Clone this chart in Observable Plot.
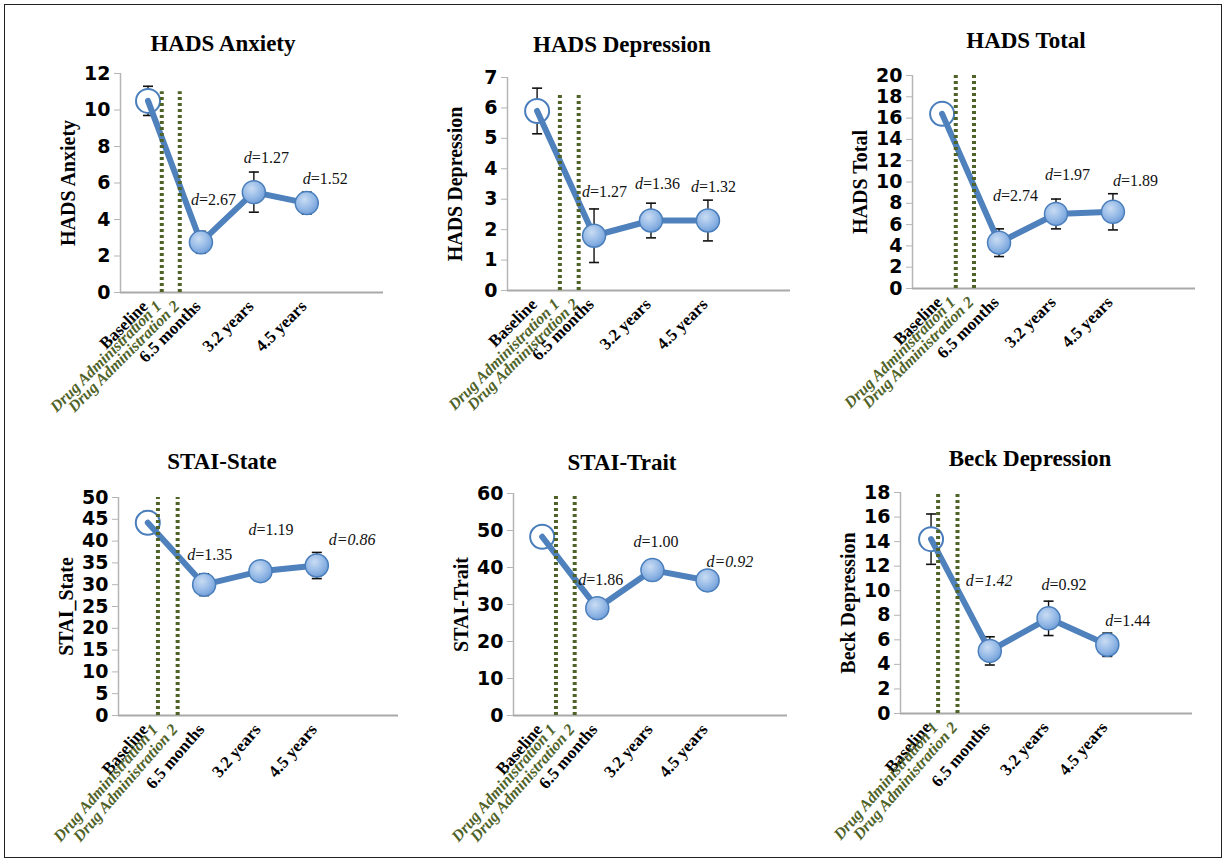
<!DOCTYPE html>
<html><head><meta charset="utf-8">
<script src="https://cdn.jsdelivr.net/npm/d3@7"></script>
<script src="https://cdn.jsdelivr.net/npm/@observablehq/plot@0.6"></script>
<style>
body{margin:0;background:#fff;}
#page{position:relative;width:1227px;height:862px;overflow:hidden;background:#fff;}
.title{position:absolute;font-family:"Liberation Serif","Times New Roman",serif;font-weight:bold;font-size:23px;transform:translate(-50%,-50%);white-space:nowrap;color:#000;}
#border{position:absolute;left:4px;top:4px;width:1216px;height:852px;border:1.5px solid #222;}
svg{position:absolute;}
</style></head><body><div id="page"><div id="border"></div></div>
<script>
// ---------- data ----------
const timeLabels = ["Baseline", "6.5 months", "3.2 years", "4.5 years"];
const timeIndex = [0, 1, 2, 3];
const drugLabels = ["Drug Administration 1", "Drug Administration 2"];
const panelTitles = ["HADS Anxiety", "HADS Depression", "HADS Total", "STAI-State", "STAI-Trait", "Beck Depression"];
const yLabels = ["HADS Anxiety", "HADS Depression", "HADS Total", "STAI_State", "STAI-Trait", "Beck Depression"];
const yMax = [12, 7, 20, 50, 60, 18];
const yStep = [2, 1, 2, 5, 10, 2];
const means = [
  [10.5, 2.75, 5.5, 4.9],
  [5.9, 1.8, 2.3, 2.3],
  [16.4, 4.3, 7.0, 7.2],
  [44.2, 30.0, 33.1, 34.4],
  [48.3, 29.0, 39.3, 36.5],
  [14.2, 5.1, 7.75, 5.6]
];
const errors = [
  [0.8, 0.6, 1.1, 0.6],
  [0.75, 0.88, 0.57, 0.67],
  [0.7, 1.3, 1.4, 1.7],
  [2.6, 2.5, 1.2, 3.0],
  [2.2, 2.8, 1.2, 1.0],
  [2.05, 1.15, 1.4, 0.95]
];
const effectSizes = [
  ["2.67", "1.27", "1.52"],
  ["1.27", "1.36", "1.32"],
  ["2.74", "1.97", "1.89"],
  ["1.35", "1.19", "0.86"],
  ["1.86", "1.00", "0.92"],
  ["1.42", "0.92", "1.44"]
];
const drugAdminX = [[0.26, 0.6], [0.4, 0.73], [0.24, 0.56], [0.18, 0.53], [0.25, 0.59], [0.12, 0.45]];
const drugLineTop = [11, 6.5, 20, 50, 60, 18];

// ---------- layout (pixels) ----------
// [axis left, axis top, axis bottom, axis right]
const geom = [
  [120, 73, 292, 383], [507, 77, 290, 790], [912, 75, 288, 1195],
  [118, 497, 715, 398], [513, 493, 715, 787], [900, 492, 713, 1192]
];
const titlePos = [[223, 44], [622, 45], [1026, 41], [222, 462], [622, 463], [1030, 459]];
const labelOffsets = [
  [[12, -42], [12, -34], [18, -24]],
  [[10, -44], [6, -37], [5, -34]],
  [[16, -47], [11, -39], [22, -31]],
  [[5, -30], [10, -41], [34, -26]],
  [[3, -28], [3, -28], [21, -19]],
  [[-2, -70], [15, -33], [20, -24]]
];
const allItalic = [[0,0,0],[0,0,0],[0,0,0],[0,0,1],[0,0,1],[1,0,0]];

const xDomain = [-0.52, 4.45];
const serif = '"Liberation Serif","Times New Roman",serif';
const sans = '"DejaVu Sans",Verdana,sans-serif';
const mL = 95, mT = 12, mR = 12, mB = 150;

const capSymbol = {draw(ctx, size) { const w = Math.sqrt(size / Math.PI); ctx.moveTo(-w, 0); ctx.lineTo(w, 0); }};

const page = document.getElementById("page");

for (let i = 0; i < 6; i++) {
  const g = geom[i];
  const rows = timeIndex.map((t, k) => ({t, label: timeLabels[k], m: means[i][k], e: errors[i][k]}));
  const caps = rows.flatMap(d => [{t: d.t, v: d.m - d.e}, {t: d.t, v: d.m + d.e}]);
  const drugRows = drugLabels.map((l, k) => ({t: drugAdminX[i][k], label: l}));
  const rot = i < 3 ? -45 : -49;

  const dMarks = [];
  for (let k = 0; k < 3; k++) {
    const [ox, oy] = labelOffsets[i][k];
    const row = [rows[k + 1]];
    dMarks.push(Plot.text(row, {x: "t", y: "m", text: () => "d", dx: ox - 14, dy: oy, textAnchor: "end",
      fontStyle: "italic", fontSize: 16, fontFamily: serif, fill: "#111"}));
    dMarks.push(Plot.text(row, {x: "t", y: "m", text: () => "=" + effectSizes[i][k], dx: ox - 14, dy: oy, textAnchor: "start",
      fontStyle: allItalic[i][k] ? "italic" : "normal", fontSize: 16, fontFamily: serif, fill: "#111"}));
  }

  const svg = Plot.plot({
    width: g[3] - g[0] + mL + mR,
    height: g[2] - g[1] + mT + mB,
    marginLeft: mL, marginRight: mR, marginTop: mT, marginBottom: mB,
    x: {domain: xDomain, axis: null},
    y: {domain: [0, yMax[i]]},
    style: {background: "transparent", overflow: "visible", fontFamily: serif, color: "#000"},
    marks: [
      Plot.ruleY([0], {x1: xDomain[0], x2: xDomain[1], stroke: "#a9a9a9", strokeWidth: 2}),
      Plot.ruleX([xDomain[0]], {y1: 0, y2: yMax[i], stroke: "#b5b5b5", strokeWidth: 1.5}),
      Plot.axisY({ticks: d3.range(0, yMax[i] + 1e-9, yStep[i]), tickSize: 6, tickPadding: 4, stroke: "#b5b5b5",
        fill: "#000", fontSize: 19, fontWeight: "bold", fontFamily: sans, label: null, tickFormat: d => String(d)}),
      Plot.ruleX(rows, {x: "t", y1: d => d.m - d.e, y2: d => d.m + d.e, stroke: "#111", strokeWidth: 1.4}),
      Plot.dot(caps, {x: "t", y: "v", symbol: capSymbol, r: 5, stroke: "#111", strokeWidth: 1.6, fill: "none"}),
      Plot.dot(rows.slice(0, 1), {x: "t", y: "m", r: 12, fill: "white", stroke: "#4a7ebb", strokeWidth: 2}),
      Plot.line(rows, {x: "t", y: "m", stroke: "#4f81bd", strokeWidth: 6, strokeLinejoin: "round", strokeLinecap: "round"}),
      Plot.ruleX(drugRows, {x: "t", y1: 0, y2: drugLineTop[i], stroke: "#4f6228", strokeWidth: 4, strokeDasharray: "3,3"}),
      Plot.dot(rows.slice(1), {x: "t", y: "m", r: 11.5, fill: "#8eb4e3", stroke: "#4a7ebb", strokeWidth: 1.5}),
      ...dMarks,
      Plot.text(rows, {x: "t", y: () => 0, text: "label", rotate: rot, textAnchor: "end", lineAnchor: "middle",
        dx: -3, dy: 11, fontWeight: "bold", fontSize: 17, fontFamily: serif, fill: "#000"}),
      Plot.text(drugRows, {x: "t", y: () => 0, text: "label", rotate: rot, textAnchor: "end", lineAnchor: "middle",
        dx: -3, dy: 11, fontWeight: "bold", fontStyle: "italic", fontSize: 16, fontFamily: serif, fill: "#4f6228"}),
      Plot.text([yLabels[i]], {frameAnchor: "left", text: d => d, rotate: -90, dx: -52, textAnchor: "middle",
        lineAnchor: "middle", fontWeight: "bold", fontSize: 20, fontFamily: serif, fill: "#000"})
    ]
  });
  // radial gradient for filled markers
  const ns = "http://www.w3.org/2000/svg";
  const defs = document.createElementNS(ns, "defs");
  defs.innerHTML = `<radialGradient id="mk${i}" cx="40%" cy="35%" r="70%">
    <stop offset="0%" stop-color="#c9dcf3"/><stop offset="60%" stop-color="#93b8e6"/><stop offset="100%" stop-color="#6c9bd6"/></radialGradient>`;
  svg.insertBefore(defs, svg.firstChild);
  svg.querySelectorAll('g[fill="#8eb4e3"]').forEach(el => el.setAttribute("fill", `url(#mk${i})`));

  svg.style.left = (g[0] - mL) + "px";
  svg.style.top = (g[1] - mT) + "px";
  page.appendChild(svg);

  const t = document.createElement("div");
  t.className = "title";
  t.textContent = panelTitles[i];
  t.style.left = titlePos[i][0] + "px";
  t.style.top = titlePos[i][1] + "px";
  page.appendChild(t);
}
</script>
</body></html>
